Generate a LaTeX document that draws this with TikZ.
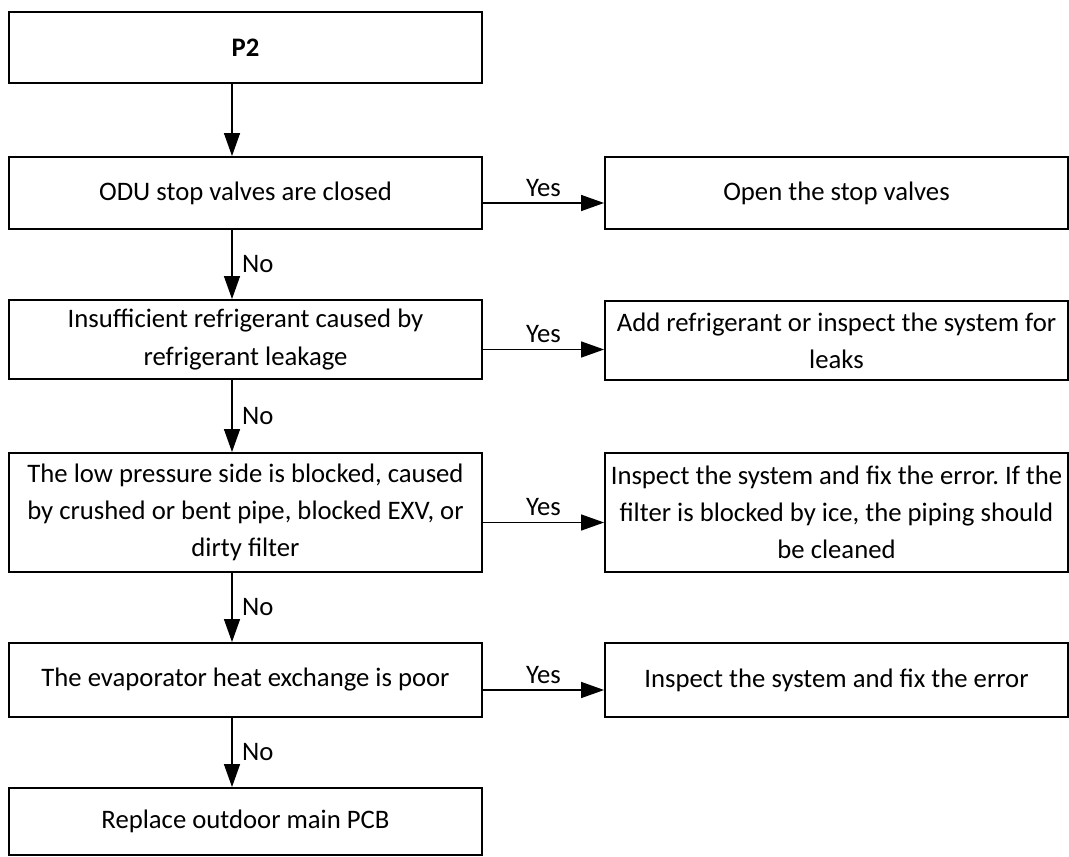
\documentclass[tikz,border=0pt]{standalone}
\usepackage{fontspec}
\setmainfont{Carlito}
\frenchspacing
\usetikzlibrary{arrows.meta}

\begin{document}
\begin{tikzpicture}[x=0.02cm,y=-0.02cm,
  >={Triangle[length=0.46cm,width=0.32cm]},
  every node/.style={font=\fontsize{15.2}{21.2}\selectfont},
  lbox/.style={draw,line width=1.1pt,minimum width=9.46cm,inner sep=0pt,align=center},
  rbox/.style={draw,line width=1.1pt,minimum width=9.26cm,inner sep=0pt,align=center},
  flow/.style={->,line width=0.8pt}]
\useasboundingbox (0,0) rectangle (1069,856);

% left column
\node[lbox,minimum height=1.42cm] (p2) at (245.5,47.5) {\bfseries P2};
\node[lbox,minimum height=1.44cm] (odu) at (245.5,193) {ODU stop valves are closed};
\node[lbox,minimum height=1.58cm] (leak) at (245.5,339.5) {Insufficient refrigerant caused by\\refrigerant leakage};
\node[lbox,minimum height=2.38cm] (low) at (245.5,512.5) {The low pressure side is blocked, caused\\by crushed or bent pipe, blocked EXV, or\\dirty filter};
\node[lbox,minimum height=1.48cm] (evap) at (245.5,680) {The evaporator heat exchange is poor};
\node[lbox,minimum height=1.34cm] (pcb) at (245.5,821.5) {Replace outdoor main PCB};

% right column
\node[rbox,minimum height=1.44cm] (open) at (836.5,193) {Open the stop valves};
\node[rbox,minimum height=1.58cm] (add) at (836.5,340.5) {Add refrigerant or inspect the system for\\leaks};
\node[rbox,minimum height=2.38cm] (fix) at (836.5,512.5) {Inspect the system and fix the error. If the\\filter is blocked by ice, the piping should\\be cleaned};
\node[rbox,minimum height=1.48cm] (fixb) at (836.5,680) {Inspect the system and fix the error};

% down
\draw[flow] ([xshift=-0.27cm]p2.south) -- ([xshift=-0.27cm]odu.north);
\draw[flow] ([xshift=-0.27cm]odu.south) -- node[midway,right,xshift=2pt] {No} ([xshift=-0.27cm]leak.north);
\draw[flow] ([xshift=-0.27cm]leak.south) -- node[midway,right,xshift=2pt] {No} ([xshift=-0.27cm]low.north);
\draw[flow] ([xshift=-0.27cm]low.south) -- node[midway,right,xshift=2pt] {No} ([xshift=-0.27cm]evap.north);
\draw[flow] ([xshift=-0.27cm]evap.south) -- node[midway,right,xshift=2pt] {No} ([xshift=-0.27cm]pcb.north);

% across
\draw[flow] ([yshift=-0.2cm]odu.east) -- node[midway,above] {Yes} ([yshift=-0.2cm]odu.east -| open.west);
\draw[flow] ([yshift=-0.2cm]leak.east) -- node[midway,above] {Yes} ([yshift=-0.2cm]leak.east -| add.west);
\draw[flow] ([yshift=-0.2cm]low.east) -- node[midway,above] {Yes} ([yshift=-0.2cm]low.east -| fix.west);
\draw[flow] ([yshift=-0.2cm]evap.east) -- node[midway,above] {Yes} ([yshift=-0.2cm]evap.east -| fixb.west);
\end{tikzpicture}
\end{document}
